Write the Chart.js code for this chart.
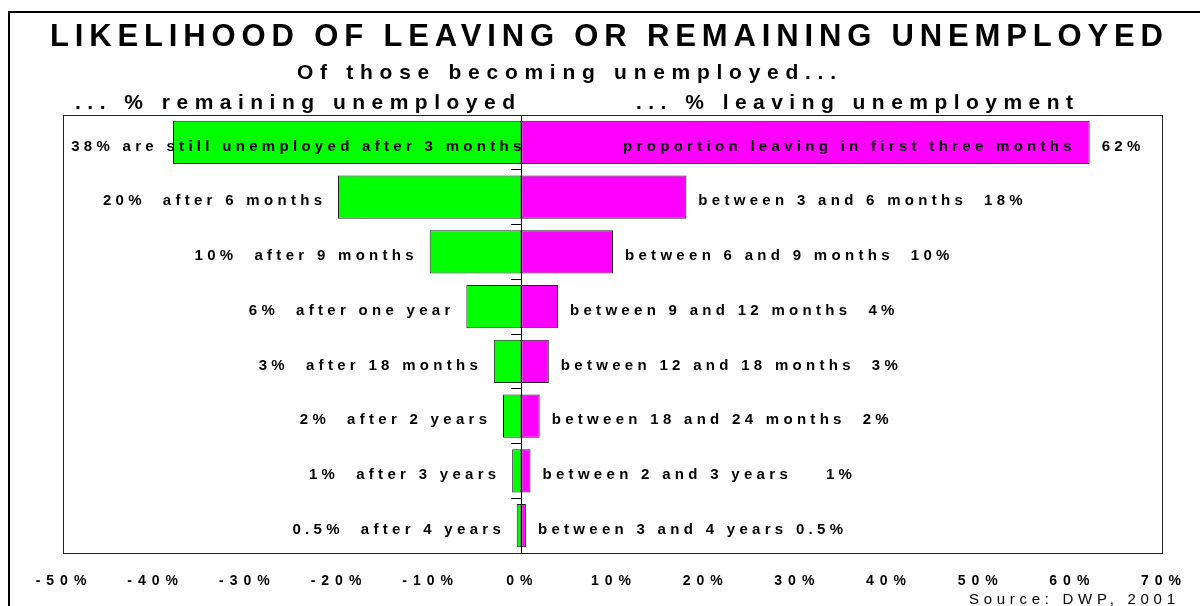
<!DOCTYPE html>
<html>
<head>
<meta charset="utf-8">
<script src="https://cdn.jsdelivr.net/npm/chart.js@4.4.1/dist/chart.umd.min.js"></script>
<style>
  html, body { margin: 0; padding: 0; background: #fff; }
  #wrap { width: 1200px; height: 606px; }
</style>
</head>
<body>
<div id="wrap"><canvas id="chart" width="1200" height="606"></canvas></div>
<script>
// categories (time since becoming unemployed)
const categories = ['3 months', '6 months', '9 months', '1 year', '18 months', '2 years', '3 years', '4 years'];
// % still unemployed after the period (drawn to the left)
const remaining = [38, 20, 10, 6, 3, 2, 1, 0.5];
// % leaving unemployment within the period (drawn to the right)
const leaving = [62, 18, 10, 4, 3, 2, 1, 0.5];

const leftLabels = [
  '38% are still unemployed after 3 months',
  '20%  after 6 months',
  '10%  after 9 months',
  '6%  after one year',
  '3%  after 18 months',
  '2%  after 2 years',
  '1%  after 3 years',
  '0.5%  after 4 years'
];
const rightLabels = [
  '62%',
  'between 3 and 6 months  18%',
  'between 6 and 9 months  10%',
  'between 9 and 12 months  4%',
  'between 12 and 18 months  3%',
  'between 18 and 24 months  2%',
  'between 2 and 3 years    1%',
  'between 3 and 4 years 0.5%'
];
const insideRight = ['proportion leaving in first three months', '', '', '', '', '', '', ''];

const xTicks = [-50, -40, -30, -20, -10, 0, 10, 20, 30, 40, 50, 60, 70];

const FAM = '"Liberation Sans", Arial, sans-serif';

// text with wide letter spacing, stretched to span x1..x2
function drawFit(ctx, text, x1, x2, y, font) {
  ctx.save();
  ctx.font = font;
  ctx.letterSpacing = '0px';
  const w = ctx.measureText(text).width;
  const ls = (x2 - x1 - w) / (text.length - 1);
  ctx.letterSpacing = ls + 'px';
  ctx.textAlign = 'left';
  ctx.textBaseline = 'alphabetic';
  ctx.fillStyle = '#000';
  ctx.fillText(text, x1, y);
  ctx.restore();
}

const ROW_FONT = 'bold 15px ' + FAM;
const ROW_LS = 4.3;

function rowWidth(ctx, text) {
  ctx.font = ROW_FONT;
  ctx.letterSpacing = ROW_LS + 'px';
  return ctx.measureText(text).width - ROW_LS;
}
function drawRow(ctx, text, x, y, align) {
  ctx.save();
  ctx.font = ROW_FONT;
  ctx.letterSpacing = ROW_LS + 'px';
  ctx.textAlign = 'left';
  ctx.textBaseline = 'middle';
  ctx.fillStyle = '#000';
  const w = ctx.measureText(text).width - ROW_LS;
  ctx.fillText(text, align === 'right' ? x - w : x, y);
  ctx.restore();
}

const decor = {
  id: 'decor',
  beforeDraw(chart) {
    // spaced-out x tick labels
    chart.ctx.letterSpacing = '6px';
  },
  beforeDatasetsDraw(chart) {
    const ctx = chart.ctx;
    ctx.letterSpacing = '0px';
    const a = chart.chartArea;
    ctx.save();
    ctx.strokeStyle = '#222';
    ctx.lineWidth = 1;
    ctx.strokeRect(a.left + 0.5, a.top + 0.5, a.right - a.left - 1, a.bottom - a.top);
    ctx.restore();
  },
  afterDraw(chart) {
    const ctx = chart.ctx;
    const a = chart.chartArea;
    const xs = chart.scales.x, ys = chart.scales.y;

    // outer frame (runs off the right and bottom)
    ctx.save();
    ctx.strokeStyle = '#000';
    ctx.lineWidth = 2;
    ctx.beginPath();
    ctx.moveTo(9, 606);
    ctx.lineTo(9, 12);
    ctx.lineTo(1200, 12);
    ctx.stroke();
    ctx.restore();

    drawFit(ctx, 'LIKELIHOOD OF LEAVING OR REMAINING UNEMPLOYED', 50, 1163, 46, 'bold 31px ' + FAM);
    drawFit(ctx, 'Of those becoming unemployed...', 297, 836, 79, 'bold 21px ' + FAM);
    drawFit(ctx, '... % remaining unemployed', 75, 515, 109, 'bold 21px ' + FAM);
    drawFit(ctx, '... % leaving unemployment', 636, 1073, 109, 'bold 21px ' + FAM);
    drawFit(ctx, 'Source: DWP, 2001', 969, 1175, 604, '15px ' + FAM);

    const x0 = xs.getPixelForValue(0);
    const gap = 16;
    categories.forEach((c, i) => {
      const yc = ys.getPixelForValue(i) + 4;
      const xl = xs.getPixelForValue(-remaining[i]);
      const xr = xs.getPixelForValue(leaving[i]);
      const wl = rowWidth(ctx, leftLabels[i]);
      if (xl - gap - wl > a.left) drawRow(ctx, leftLabels[i], xl - gap, yc, 'right');
      else drawRow(ctx, leftLabels[i], x0, yc, 'right');
      if (insideRight[i]) drawRow(ctx, insideRight[i], xr - 18, yc, 'right');
      drawRow(ctx, rightLabels[i], xr + 12, yc, 'left');
    });
  }
};

new Chart(document.getElementById('chart'), {
  type: 'bar',
  data: {
    labels: categories,
    datasets: [
      {
        label: 'remaining unemployed',
        data: remaining.map(v => -v),
        backgroundColor: '#00ff00',
        borderColor: '#222',
        borderWidth: 1,
        borderSkipped: false
      },
      {
        label: 'leaving unemployment',
        data: leaving,
        backgroundColor: '#ff00ff',
        borderColor: '#222',
        borderWidth: 1,
        borderSkipped: false
      }
    ]
  },
  options: {
    indexAxis: 'y',
    responsive: false,
    animation: false,
    layout: { padding: { left: 63, right: 37, top: 115, bottom: 0 } },
    datasets: { bar: { categoryPercentage: 1, barPercentage: 0.79 } },
    plugins: {
      legend: { display: false },
      title: { display: false },
      tooltip: { enabled: false }
    },
    scales: {
      x: {
        stacked: true,
        min: -50,
        max: 70,
        afterBuildTicks: s => { s.ticks = xTicks.map(v => ({ value: v })); },
        afterFit: s => { s.height = 53; },
        grid: { display: false, drawTicks: false },
        border: { display: false },
        ticks: {
          callback: v => v + '%',
          color: '#000',
          font: { family: FAM, size: 14, weight: 'bold' },
          padding: 20,
          labelOffset: 1,
          maxRotation: 0,
          autoSkip: false
        }
      },
      y: {
        stacked: true,
        position: { x: 0 },
        grid: { drawOnChartArea: false, tickLength: 10, color: '#000', offset: true },
        border: { display: true, color: '#000', width: 1 },
        ticks: { display: false }
      }
    }
  },
  plugins: [decor]
});
</script>
</body>
</html>
